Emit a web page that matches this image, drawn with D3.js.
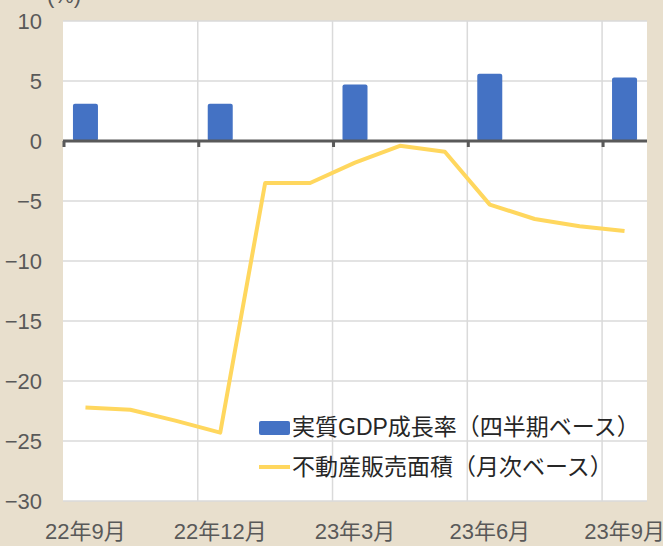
<!DOCTYPE html>
<html>
<head>
<meta charset="utf-8">
<script src="https://cdn.jsdelivr.net/npm/d3@7"></script>
<style>
  body { margin: 0; background: #e8dfcd; }
  text { font-family: "Liberation Sans", Arial, "Noto Sans CJK JP", sans-serif; }
</style>
</head>
<body>
<script>
// chart data
var months = ["22年9月", "22年10月", "22年11月", "22年12月", "23年1月", "23年2月", "23年3月",
              "23年4月", "23年5月", "23年6月", "23年7月", "23年8月", "23年9月"];
var quarterLabels = ["22年9月", "22年12月", "23年3月", "23年6月", "23年9月"];
var gdpValues = [3.1, 3.1, 4.7, 5.6, 5.3];
var salesValues = [-22.2, -22.4, -23.3, -24.3, -3.5, -3.5, -1.8, -0.4, -0.9, -5.3, -6.5, -7.1, -7.5];
var yTicks = [10, 5, 0, -5, -10, -15, -20, -25, -30];
var seriesNames = ["実質GDP成長率（四半期ベース）", "不動産販売面積（月次ベース）"];

window.onload = function(){
    var w = 663, h = 546;
    var pLeft = 63, pRight = 647, pTop = 21, pBottom = 501;

    var svg = d3.select("body")
        .append("svg")
        .attr("width", w)
        .attr("height", h)
        .style("display", "block");

    svg.append("rect") //plot background
        .attr("x", pLeft)
        .attr("y", pTop)
        .attr("width", pRight - pLeft)
        .attr("height", pBottom - pTop)
        .style("fill", "#ffffff");

    var x = d3.scaleBand()
        .domain(months)
        .range([pLeft, pRight])
        .paddingInner(0);

    var y = d3.scaleLinear()
        .domain([-30, 10])
        .range([pBottom, pTop]);

    //horizontal gridlines
    svg.selectAll(".hgrid")
        .data(yTicks)
        .enter()
        .append("line")
        .attr("class", "hgrid")
        .attr("x1", pLeft)
        .attr("x2", pRight)
        .attr("y1", function(d){ return y(d); })
        .attr("y2", function(d){ return y(d); })
        .style("stroke", "#dadada")
        .style("stroke-width", 1.5);

    //vertical gridlines at quarter starts
    svg.selectAll(".vgrid")
        .data(quarterLabels.slice(1))
        .enter()
        .append("line")
        .attr("class", "vgrid")
        .attr("x1", function(d){ return x(d); })
        .attr("x2", function(d){ return x(d); })
        .attr("y1", pTop)
        .attr("y2", pBottom)
        .style("stroke", "#dadada")
        .style("stroke-width", 1.5);

    //y axis labels
    var yAxis = svg.append("g")
        .attr("transform", "translate(" + (pLeft - 21) + ",0)")
        .call(d3.axisLeft(y).tickValues(yTicks).tickSize(0).tickPadding(0));
    yAxis.select(".domain").remove();
    yAxis.selectAll("text")
        .style("font-size", "22px")
        .style("fill", "#595959")
        .style("font-family", "'Liberation Sans', Arial, sans-serif");

    //x axis labels, centred on the month
    var xAxis = svg.append("g")
        .attr("transform", "translate(0," + (pBottom + 22) + ")")
        .call(d3.axisBottom(x).tickValues(quarterLabels).tickSize(0).tickPadding(0));
    xAxis.select(".domain").remove();
    xAxis.selectAll("text")
        .style("font-size", "22px")
        .style("fill", "#595959")
        .style("font-family", "'Liberation Sans', Arial, 'Noto Sans CJK JP', sans-serif");

    //gdp bars
    var bw = 25;
    svg.selectAll(".bar")
        .data(gdpValues)
        .enter()
        .append("rect")
        .attr("class", "bar")
        .attr("x", function(d, i){ return x(quarterLabels[i]) + x.bandwidth() / 2 - bw / 2; })
        .attr("y", function(d){ return y(d); })
        .attr("width", bw)
        .attr("height", function(d){ return y(0) - y(d); })
        .attr("rx", 2)
        .style("fill", "#4472c4");

    //zero axis line with tick marks
    svg.append("line")
        .attr("x1", pLeft)
        .attr("x2", pRight)
        .attr("y1", y(0))
        .attr("y2", y(0))
        .style("stroke", "#595959")
        .style("stroke-width", 3);

    svg.selectAll(".xtick")
        .data(quarterLabels)
        .enter()
        .append("line")
        .attr("class", "xtick")
        .attr("x1", function(d){ return x(d) + 1; })
        .attr("x2", function(d){ return x(d) + 1; })
        .attr("y1", y(0))
        .attr("y2", y(0) + 6)
        .style("stroke", "#595959")
        .style("stroke-width", 3);

    //sales line
    var line = d3.line()
        .x(function(d, i){ return x(months[i]) + x.bandwidth() / 2; })
        .y(function(d){ return y(d); });

    svg.append("path")
        .datum(salesValues)
        .attr("d", line)
        .style("fill", "none")
        .style("stroke", "#ffd75e")
        .style("stroke-width", 4)
        .style("stroke-linejoin", "round");

    //legend
    var legend = svg.append("g").attr("transform", "translate(259,0)");
    legend.append("rect")
        .attr("x", 0)
        .attr("y", 421)
        .attr("width", 31)
        .attr("height", 14)
        .attr("rx", 2)
        .style("fill", "#4472c4");
    legend.append("line")
        .attr("x1", 0)
        .attr("x2", 31)
        .attr("y1", 467)
        .attr("y2", 467)
        .style("stroke", "#ffd75e")
        .style("stroke-width", 4);
    legend.selectAll(".ltext")
        .data(seriesNames)
        .enter()
        .append("text")
        .attr("class", "ltext")
        .attr("x", 33)
        .attr("y", function(d, i){ return 427 + i * 40; })
        .attr("dy", "0.35em")
        .style("font-size", "23px")
        .style("fill", "#262626")
        .text(function(d){ return d; });

    //unit label, cut off at the top
    svg.append("text")
        .attr("x", 64)
        .attr("y", 3)
        .attr("text-anchor", "middle")
        .style("font-size", "22px")
        .style("fill", "#595959")
        .text("(%)");
};
</script>
</body>
</html>
